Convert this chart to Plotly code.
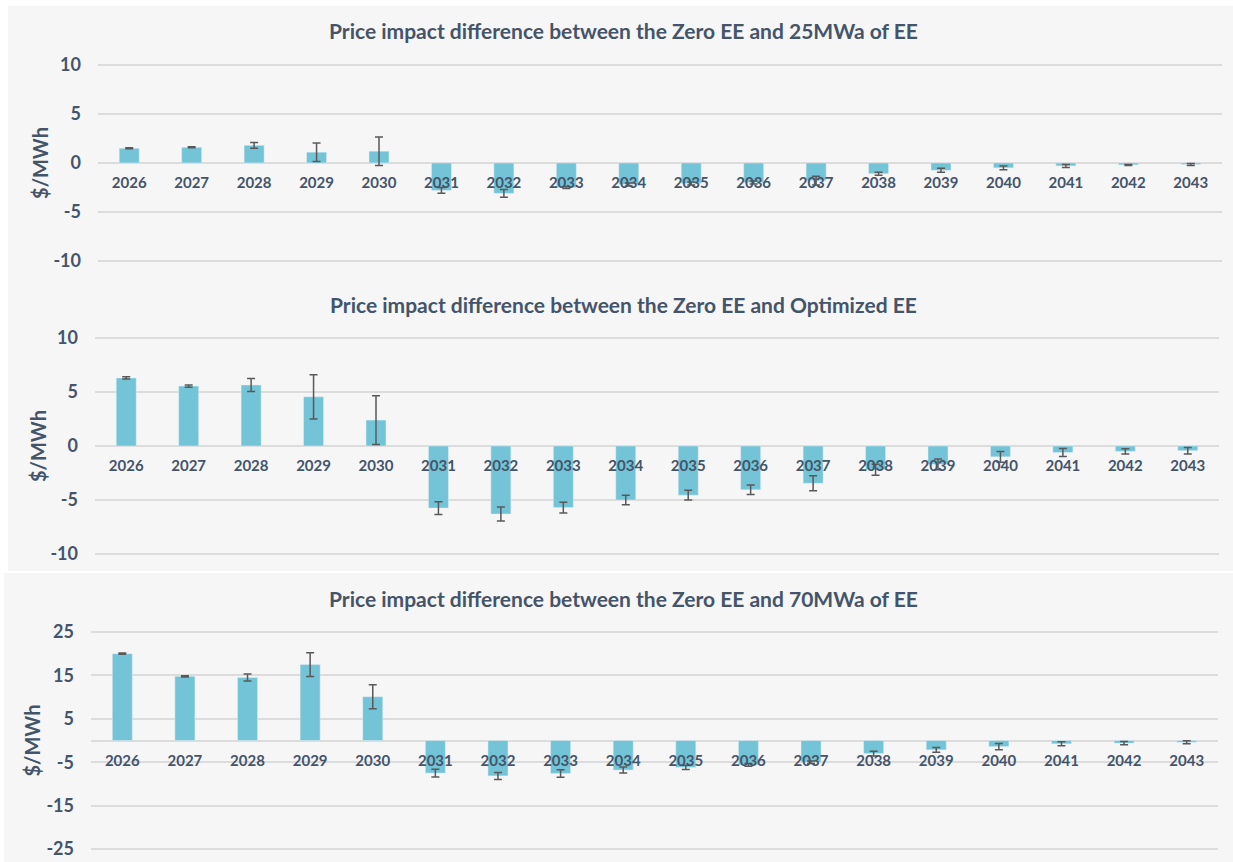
import plotly.graph_objects as go


##########
# Inputs #
##########

years = ["2026", "2027", "2028", "2029", "2030", "2031", "2032", "2033", "2034",
         "2035", "2036", "2037", "2038", "2039", "2040", "2041", "2042", "2043"]

titles = [
    "Price impact difference between the Zero EE and 25MWa of EE",
    "Price impact difference between the Zero EE and Optimized EE",
    "Price impact difference between the Zero EE and 70MWa of EE",
]

# $/MWh
impact_25mwa = [1.5, 1.6, 1.8, 1.1, 1.2, -2.8, -3.1, -2.5, -2.2,
                -2.1, -2.0, -1.8, -1.1, -0.75, -0.5, -0.3, -0.2, -0.15]
error_25mwa = [0.05, 0.05, 0.3, 0.95, 1.45, 0.3, 0.4, 0.1, 0.15,
               0.15, 0.15, 0.45, 0.15, 0.2, 0.2, 0.15, 0.05, 0.1]

impact_optimized = [6.3, 5.55, 5.65, 4.55, 2.4, -5.75, -6.3, -5.7, -5.0,
                    -4.55, -4.05, -3.45, -2.2, -1.7, -1.0, -0.6, -0.5, -0.43]
error_optimized = [0.1, 0.1, 0.6, 2.05, 2.25, 0.6, 0.65, 0.5, 0.45,
                   0.45, 0.43, 0.7, 0.5, 0.5, 0.5, 0.37, 0.25, 0.3]

impact_70mwa = [20.0, 14.8, 14.5, 17.5, 10.1, -7.5, -8.15, -7.6, -6.8,
                -6.2, -5.6, -5.0, -3.0, -2.15, -1.4, -0.75, -0.6, -0.4]
error_70mwa = [0.15, 0.15, 0.8, 2.75, 2.75, 0.9, 0.8, 0.85, 0.7,
               0.5, 0.3, 0.3, 0.55, 0.55, 0.7, 0.45, 0.35, 0.35]

y_ranges = [[-10, 10], [-10, 10], [-25, 25]]
y_ticks = [[-10, -5, 0, 5, 10], [-10, -5, 0, 5, 10], [-25, -15, -5, 5, 15, 25]]
y_title = "$/MWh"


##########
# Styles #
##########

width, height = 1233, 862
bar_colour = "#72c4d6"
error_colour = "#595959"
grid_colour = "#dcdcdc"
panel_colour = "#f6f6f6"
text_colour = "#44546a"
font_family = "Lato"

# target pixel geometry of each panel: plot left/right, plot top/bottom (outer gridlines),
# title y, axis label x, background box (x0, y0, y1)
panels = [
    {"x0": 98, "x1": 1222, "top": 64, "bottom": 260, "title_y": 30, "label_x": 40, "bg": (8, 5, 278)},
    {"x0": 95, "x1": 1219, "top": 337, "bottom": 553, "title_y": 304, "label_x": 38, "bg": (8, 278, 566)},
    {"x0": 91, "x1": 1218, "top": 631, "bottom": 848, "title_y": 597, "label_x": 32, "bg": (4, 572, 862)},
]
edge_pad_px = 2  # keeps the outer gridlines inside the plot area

# the captured page comes out slightly squeezed vertically (about its middle);
# target y positions are mapped back through this before they are placed
capture_offset, capture_scale = 9.05, 0.979


def px_x(x):
    return x / width


def px_y(y):
    page_y = (y - capture_offset) / capture_scale
    return 1 - page_y / height


###############
# Build plots #
###############

series = [(impact_25mwa, error_25mwa), (impact_optimized, error_optimized), (impact_70mwa, error_70mwa)]

fig = go.Figure()
layout = {}
annotations = []
shapes = []

for i, ((values, errors), panel) in enumerate(zip(series, panels)):
    n = "" if i == 0 else str(i + 1)
    fig.add_trace(
        go.Bar(
            x=years,
            y=values,
            xaxis="x" + n,
            yaxis="y" + n,
            marker_color=bar_colour,
            error_y={"type": "data", "array": errors, "color": error_colour,
                     "thickness": 1.5, "width": 4},
            showlegend=False,
        )
    )

    y_min, y_max = y_ranges[i]
    top, bottom = panel["top"], panel["bottom"]
    pad = edge_pad_px * (y_max - y_min) / (bottom - top)
    dom_bottom = px_y(bottom + edge_pad_px)
    dom_top = px_y(top - edge_pad_px)
    zero_pos = px_y(top + y_max / (y_max - y_min) * (bottom - top))

    layout["xaxis" + n] = {
        "type": "category",
        "domain": [px_x(panel["x0"]), px_x(panel["x1"])],
        "anchor": "free",
        "position": zero_pos,
        "showgrid": False,
        "showline": False,
        "zeroline": False,
        "ticks": "",
        "ticklabelstandoff": 9,
        "tickfont": {"family": font_family, "size": 15, "color": text_colour, "weight": "bold"},
    }
    layout["yaxis" + n] = {
        "domain": [dom_bottom, dom_top],
        "anchor": "x" + n,
        "range": [y_min - pad, y_max + pad],
        "tickvals": y_ticks[i],
        "ticktext": [str(v) for v in y_ticks[i]],
        "showgrid": True,
        "gridcolor": grid_colour,
        "gridwidth": 1.5,
        "zeroline": True,
        "zerolinecolor": grid_colour,
        "zerolinewidth": 1.5,
        "showline": False,
        "ticks": "",
        "ticklabelstandoff": 16,
        "tickfont": {"family": font_family, "size": 18, "color": text_colour, "weight": "bold"},
    }

    annotations += [
        {
            "text": "<b>" + titles[i] + "</b>",
            "xref": "paper", "yref": "paper",
            "x": px_x(623), "y": px_y(panel["title_y"]),
            "xanchor": "center", "yanchor": "middle",
            "showarrow": False,
            "font": {"family": font_family, "size": 21, "color": text_colour},
        },
        {
            "text": "<b>" + y_title + "</b>",
            "xref": "paper", "yref": "paper",
            "x": px_x(panel["label_x"]), "y": zero_pos,
            "xanchor": "center", "yanchor": "middle",
            "textangle": -90,
            "showarrow": False,
            "font": {"family": font_family, "size": 20, "color": text_colour},
        },
    ]

    bg_x0, bg_y0, bg_y1 = panel["bg"]
    shapes.append({
        "type": "rect", "xref": "paper", "yref": "paper", "layer": "below",
        "x0": px_x(bg_x0), "x1": 1.01, "y0": px_y(bg_y1 + 4), "y1": px_y(bg_y0),
        "fillcolor": panel_colour, "line": {"width": 0},
    })

fig.update_layout(
    width=width,
    height=height,
    autosize=False,
    margin={"l": 0, "r": 0, "t": 0, "b": 0},
    paper_bgcolor="white",
    plot_bgcolor="rgba(0,0,0,0)",
    bargap=0.68,
    annotations=annotations,
    shapes=shapes,
    **layout,
)

# keep the page exactly the size of the figure
page_script = (
    "document.body.style.margin = '0';"
    "document.body.style.height = '862px';"
    "document.body.style.overflow = 'hidden';"
)
fig.write_html("out.html", post_script=page_script, config={"displayModeBar": False})
